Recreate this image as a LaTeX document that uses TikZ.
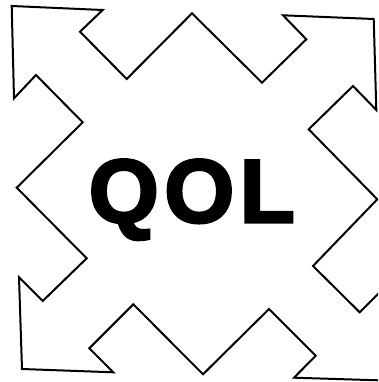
\documentclass[tikz,border=0pt]{standalone}
\usepackage{fontspec}
\setmainfont{Liberation Sans}
\newfontfamily\qolfont{Liberation Sans}[UprightFont=*-Bold,FakeBold=3]
\begin{document}
\begin{tikzpicture}[x=1pt,y=-1pt,
  outline/.style={draw=black,line width=2pt,line join=miter,fill=white},
  label/.style={font=\fontsize{90}{90}\qolfont,inner sep=0pt,anchor=base}]
\useasboundingbox (0,0) rectangle (378,382);
\clip (0,0) rectangle (378,382);
\draw[outline] (11.7,6) -- (102.7,10) -- (80,31.7) -- (126.7,79) -- (192,13.3)
  -- (262,82.7) -- (306.3,39.3) -- (283,15.3) -- (373.7,19) -- (376.3,110)
  -- (353,86) -- (308.7,129.3) -- (377.3,199.3) -- (313,266) -- (359.7,312.3)
  -- (383,289) -- (385,380.5) -- (294,377.7) -- (315.7,355.7) -- (269,309)
  -- (203,374.3) -- (133.3,304.3) -- (89.3,348.3) -- (113.3,372.3) -- (22,369)
  -- (19,277.3) -- (42.7,301) -- (86.7,258.3) -- (16.7,187.7) -- (82.7,122.3)
  -- (36,75) -- (14,98.3) -- cycle;
\node[label] (qol) at (191.8,222.3) {Q\kern5.5pt O\kern5.5pt L};
\end{tikzpicture}
\end{document}
